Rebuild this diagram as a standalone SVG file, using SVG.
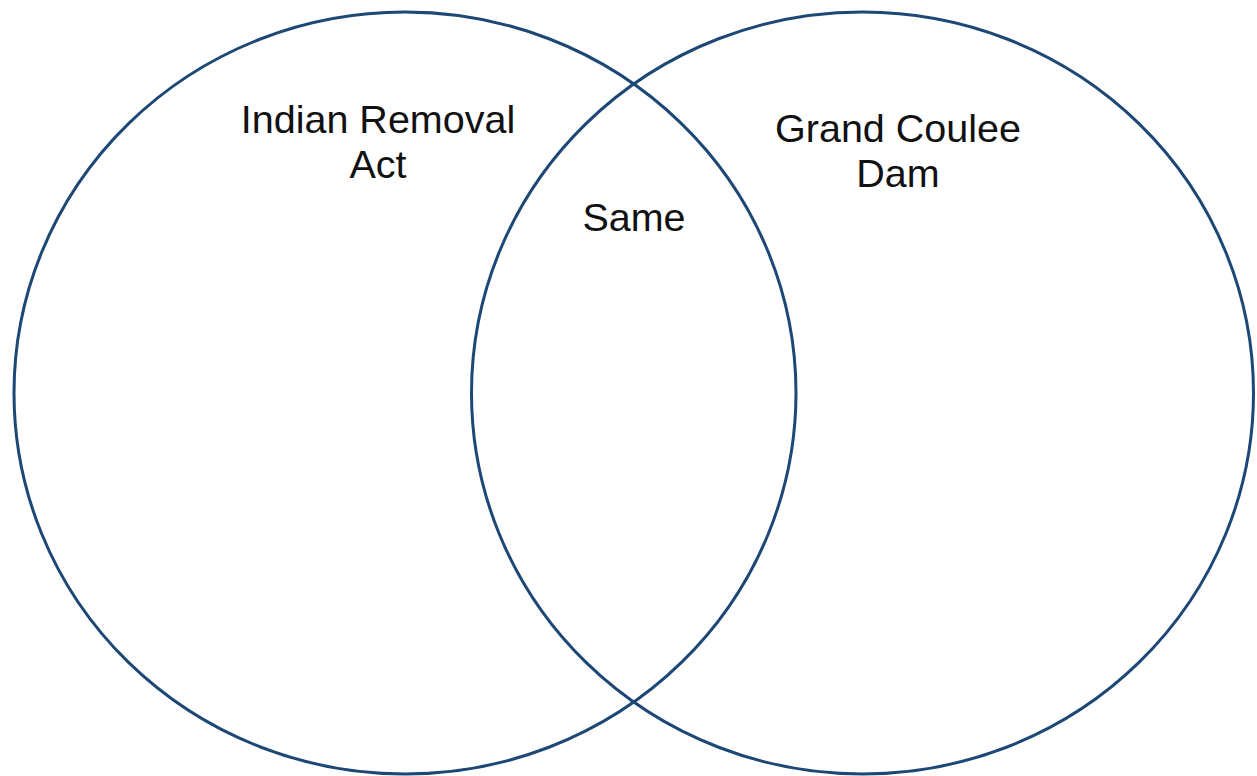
<svg xmlns="http://www.w3.org/2000/svg" width="1257" height="776" viewBox="0 0 1257 776">
<style>
.c{fill:none;stroke:#1d4774;stroke-width:3}
.t{font-family:"Liberation Sans",Arial,sans-serif;font-size:39.5px;fill:#111;text-anchor:middle}
</style>
<rect width="1257" height="776" fill="#fff"/>
<g id="left"><ellipse class="c" cx="405" cy="393" rx="391" ry="381"/>
<text class="t" x="378" y="133">Indian Removal</text><text class="t" x="378" y="178">Act</text></g>
<g id="right"><ellipse class="c" cx="862.5" cy="393" rx="391" ry="381"/>
<text class="t" x="898" y="142">Grand Coulee</text><text class="t" x="898" y="187">Dam</text></g>
<g id="overlap"><text class="t" x="634" y="231">Same</text></g>
<g id="connectors"/>
</svg>
